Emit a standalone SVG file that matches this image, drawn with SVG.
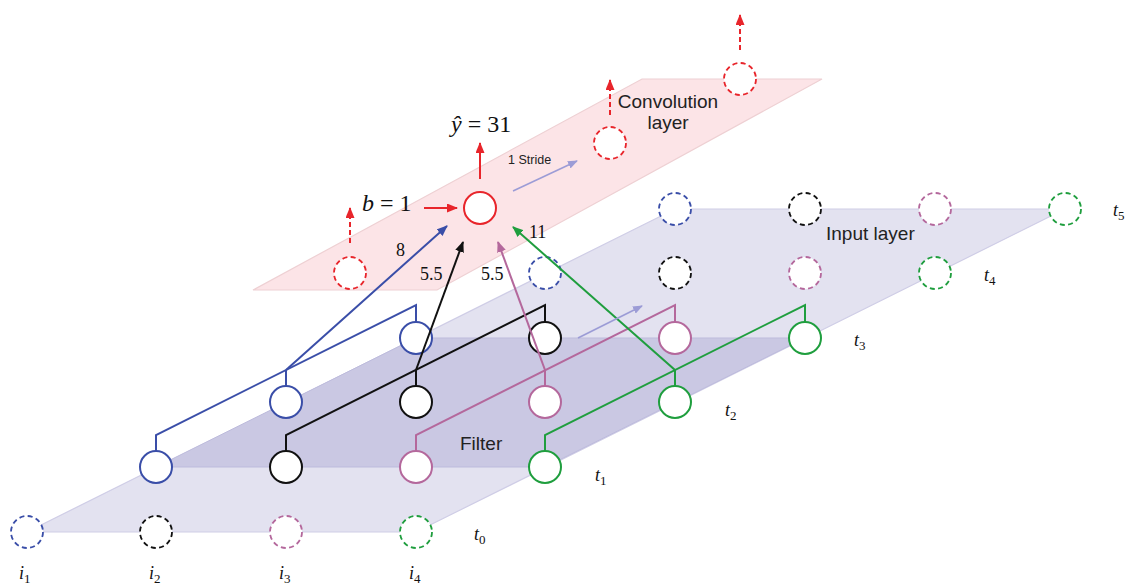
<svg xmlns="http://www.w3.org/2000/svg" width="1131" height="586" viewBox="0 0 1131 586">
  <style>
    .sans { font-family: "Liberation Sans", Arial, sans-serif; fill: #222; }
    .math { font-family: "Liberation Serif", "Times New Roman", serif; fill: #111; }
    .node { fill: #fff; stroke-width: 2; }
    .dash { fill: #fff; stroke-width: 1.8; stroke-dasharray: 5 3.4; }
    .wire { fill: none; stroke-width: 2; }
    .blue { stroke: #3a4ea8; }
    .black { stroke: #111; }
    .mauve { stroke: #b4689c; }
    .green { stroke: #1f9e3e; }
    .red { stroke: #e8252b; }
  </style>
  <defs>
    <marker id="ah-red" markerUnits="userSpaceOnUse" markerWidth="11" markerHeight="9" refX="10" refY="4.5" orient="auto"><path d="M0,0 L11,4.5 L0,9 z" fill="#e8252b"/></marker>
    <marker id="ah-blue" markerUnits="userSpaceOnUse" markerWidth="11" markerHeight="9" refX="10" refY="4.5" orient="auto"><path d="M0,0 L11,4.5 L0,9 z" fill="#3a4ea8"/></marker>
    <marker id="ah-black" markerUnits="userSpaceOnUse" markerWidth="11" markerHeight="9" refX="10" refY="4.5" orient="auto"><path d="M0,0 L11,4.5 L0,9 z" fill="#111"/></marker>
    <marker id="ah-mauve" markerUnits="userSpaceOnUse" markerWidth="11" markerHeight="9" refX="10" refY="4.5" orient="auto"><path d="M0,0 L11,4.5 L0,9 z" fill="#b4689c"/></marker>
    <marker id="ah-green" markerUnits="userSpaceOnUse" markerWidth="11" markerHeight="9" refX="10" refY="4.5" orient="auto"><path d="M0,0 L11,4.5 L0,9 z" fill="#1f9e3e"/></marker>
    <marker id="ah-lav" markerUnits="userSpaceOnUse" markerWidth="10" markerHeight="8" refX="9" refY="4" orient="auto"><path d="M0,0 L10,4 L0,8 z" fill="#9c9cd6"/></marker>
  </defs>

  <!-- layer planes -->
  <g id="input-layer-plane">
    <polygon points="27,532 416,532 1065,209 675,209" fill="#e3e2f0" stroke="#cfcde6" stroke-width="1.2"/>
  </g>
  <g id="filter-plane">
    <polygon points="156,467 545,467 805,338 416,338" fill="#cac8e3" stroke="#bdbbdc" stroke-width="1"/>
  </g>
  <g id="conv-layer-plane">
    <polygon points="253,290 437,290 822,79 642,79" fill="#fce4e7" stroke="#eed0d3" stroke-width="1.2"/>
  </g>

  <!-- plane labels -->
  <g id="labels">
    <text class="sans" x="668" y="108" font-size="19" text-anchor="middle">Convolution</text>
    <text class="sans" x="668" y="129" font-size="19" text-anchor="middle">layer</text>
    <text class="sans" x="826" y="240" font-size="19">Input layer</text>
    <text class="sans" x="460" y="450" font-size="19">Filter</text>
    <text class="sans" x="508" y="164" font-size="12.5">1 Stride</text>
    <text class="math" x="451" y="132" font-size="24"><tspan font-style="italic">ŷ</tspan> = 31</text>
    <text class="math" x="362" y="211" font-size="24"><tspan font-style="italic">b</tspan> = 1</text>
    <text class="math" x="396" y="256" font-size="18">8</text>
    <text class="math" x="420" y="280" font-size="18">5.5</text>
    <text class="math" x="481" y="280" font-size="18">5.5</text>
    <text class="math" x="529" y="238" font-size="18">11</text>
    <!-- time steps -->
    <text class="math" x="474" y="540" font-size="18"><tspan font-style="italic">t</tspan><tspan font-size="13" dy="4">0</tspan></text>
    <text class="math" x="595" y="481" font-size="18"><tspan font-style="italic">t</tspan><tspan font-size="13" dy="4">1</tspan></text>
    <text class="math" x="725" y="416" font-size="18"><tspan font-style="italic">t</tspan><tspan font-size="13" dy="4">2</tspan></text>
    <text class="math" x="854" y="346" font-size="18"><tspan font-style="italic">t</tspan><tspan font-size="13" dy="4">3</tspan></text>
    <text class="math" x="984" y="281" font-size="18"><tspan font-style="italic">t</tspan><tspan font-size="13" dy="4">4</tspan></text>
    <text class="math" x="1113" y="216" font-size="18"><tspan font-style="italic">t</tspan><tspan font-size="13" dy="4">5</tspan></text>
    <!-- input indices -->
    <text class="math" x="19" y="579" font-size="18"><tspan font-style="italic">i</tspan><tspan font-size="13" dy="4">1</tspan></text>
    <text class="math" x="149" y="579" font-size="18"><tspan font-style="italic">i</tspan><tspan font-size="13" dy="4">2</tspan></text>
    <text class="math" x="279" y="579" font-size="18"><tspan font-style="italic">i</tspan><tspan font-size="13" dy="4">3</tspan></text>
    <text class="math" x="409" y="579" font-size="18"><tspan font-style="italic">i</tspan><tspan font-size="13" dy="4">4</tspan></text>
  </g>

  <!-- filter wiring (drawn beneath the nodes) -->
  <g id="connectors">
    <polyline class="wire blue" points="156,451 156,435 416,305 416,322"/>
    <line class="wire blue" x1="286" y1="386" x2="286" y2="370"/>
    <polyline class="wire black" points="286,451 286,435 545,305 545,322"/>
    <line class="wire black" x1="416" y1="386" x2="416" y2="370"/>
    <polyline class="wire mauve" points="416,451 416,435 675,305 675,322"/>
    <line class="wire mauve" x1="545" y1="386" x2="545" y2="370"/>
    <polyline class="wire green" points="545,451 545,435 805,305 805,322"/>
    <line class="wire green" x1="675" y1="386" x2="675" y2="370"/>
  </g>

  <!-- input nodes outside the filter -->
  <g id="input-nodes">
    <circle class="dash blue" cx="27" cy="532" r="16"/>
    <circle class="dash black" cx="156" cy="532" r="16"/>
    <circle class="dash mauve" cx="286" cy="532" r="16"/>
    <circle class="dash green" cx="416" cy="532" r="16"/>
    <circle class="dash blue" cx="545" cy="273" r="16"/>
    <circle class="dash black" cx="675" cy="273" r="16"/>
    <circle class="dash mauve" cx="805" cy="273" r="16"/>
    <circle class="dash green" cx="935" cy="273" r="16"/>
    <circle class="dash blue" cx="675" cy="209" r="16"/>
    <circle class="dash black" cx="805" cy="209" r="16"/>
    <circle class="dash mauve" cx="935" cy="209" r="16"/>
    <circle class="dash green" cx="1065" cy="209" r="16"/>
  </g>

  <!-- filter nodes -->
  <g id="filter-nodes">
    <circle class="node blue" cx="156" cy="467" r="16"/>
    <circle class="node blue" cx="286" cy="402" r="16"/>
    <circle class="node blue" cx="416" cy="338" r="16"/>
    <circle class="node black" cx="286" cy="467" r="16"/>
    <circle class="node black" cx="416" cy="402" r="16"/>
    <circle class="node black" cx="545" cy="338" r="16"/>
    <circle class="node mauve" cx="416" cy="467" r="16"/>
    <circle class="node mauve" cx="545" cy="402" r="16"/>
    <circle class="node mauve" cx="675" cy="338" r="16"/>
    <circle class="node green" cx="545" cy="467" r="16"/>
    <circle class="node green" cx="675" cy="402" r="16"/>
    <circle class="node green" cx="805" cy="338" r="16"/>
  </g>

  <!-- convolution layer nodes -->
  <g id="conv-nodes">
    <circle class="node red" cx="480" cy="208" r="16"/>
    <circle class="dash red" cx="350" cy="273" r="16"/>
    <circle class="dash red" cx="610" cy="143" r="16"/>
    <circle class="dash red" cx="740" cy="79" r="16"/>
  </g>

  <!-- weighted sums into the output neuron, outputs and strides -->
  <g id="arrows">
    <line class="wire blue" x1="286" y1="370" x2="447" y2="226" marker-end="url(#ah-blue)"/>
    <line class="wire black" x1="416" y1="370" x2="463" y2="242" marker-end="url(#ah-black)"/>
    <line class="wire mauve" x1="545" y1="370" x2="498" y2="242" marker-end="url(#ah-mauve)"/>
    <line class="wire green" x1="675" y1="370" x2="513" y2="227" marker-end="url(#ah-green)"/>
    <line class="wire red" x1="424" y1="208" x2="457" y2="208" marker-end="url(#ah-red)"/>
    <line class="wire red" x1="480" y1="179" x2="480" y2="143" marker-end="url(#ah-red)"/>
    <line class="wire red" x1="350" y1="243" x2="350" y2="208" stroke-dasharray="5 3" marker-end="url(#ah-red)"/>
    <line class="wire red" x1="610" y1="115" x2="610" y2="80" stroke-dasharray="5 3" marker-end="url(#ah-red)"/>
    <line class="wire red" x1="740" y1="50" x2="740" y2="15" stroke-dasharray="5 3" marker-end="url(#ah-red)"/>
    <line x1="513" y1="191" x2="577" y2="161" stroke="#9c9cd6" stroke-width="1.6" marker-end="url(#ah-lav)"/>
    <line x1="578" y1="338" x2="642" y2="306" stroke="#9c9cd6" stroke-width="1.6" marker-end="url(#ah-lav)"/>
  </g>
</svg>
